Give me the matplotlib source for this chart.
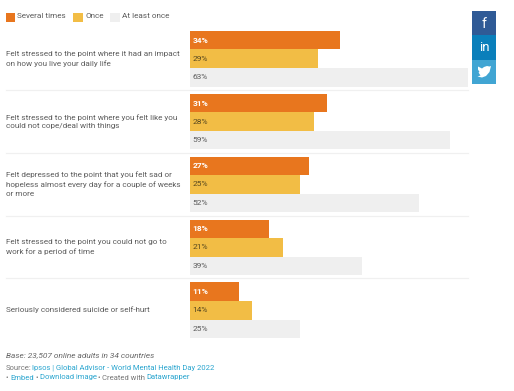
import numpy as np
import matplotlib
matplotlib.use("Agg")
import matplotlib.pyplot as plt
from matplotlib.patches import Rectangle, Polygon

plt.rcParams["font.family"] = ["Roboto", "DejaVu Sans"]

questions = [
    "Felt stressed to the point where it had an impact\non how you live your daily life",
    "Felt stressed to the point where you felt like you\ncould not cope/deal with things",
    "Felt depressed to the point that you felt sad or\nhopeless almost every day for a couple of weeks\nor more",
    "Felt stressed to the point you could not go to\nwork for a period of time",
    "Seriously considered suicide or self-hurt",
]
several_times = [34, 31, 27, 18, 11]
once = [29, 28, 25, 21, 14]
at_least_once = [63, 59, 52, 39, 25]

ORANGE = "#e8761e"
YELLOW = "#f2bd45"
GREY = "#efefef"
TEXT = "#5c5c5c"
LINK = "#2aa5cf"

W, H = 514, 391
fig = plt.figure(figsize=(W / 100, H / 100), dpi=100, facecolor="white")

# page layer, in pixels
page = fig.add_axes([0, 0, 1, 1])
page.set_xlim(0, W)
page.set_ylim(H, 0)
page.axis("off")

# bars
ax = fig.add_axes([190 / W, 1 - 338 / H, 278 / W, 307 / H])
ax.set_xlim(0, 63)
ax.set_ylim(4.44, -0.44)
ax.axis("off")

y = np.arange(len(questions))
bar_h = 0.295
series = [
    (several_times, -bar_h, ORANGE, "white", "bold"),
    (once, 0, YELLOW, "#5a4a20", "normal"),
    (at_least_once, bar_h, GREY, TEXT, "normal"),
]
for values, offset, color, txt_color, weight in series:
    ax.barh(y + offset, values, height=bar_h, color=color, linewidth=0)
    for yi, v in zip(y, values):
        ax.text(0.55, yi + offset, f"{v}%", color=txt_color, fontweight=weight,
                fontsize=6.0, va="center", ha="left")

# row labels and separators
for i, q in enumerate(questions):
    cy = 58.7 + i * 62.8
    page.text(6, cy, q, fontsize=5.87, color=TEXT, va="center", ha="left", linespacing=1.55)
    if i < len(questions) - 1:
        page.plot([6, 468], [cy + 31.2, cy + 31.2], color="#f0f0f0", linewidth=0.9)

# legend
legend_items = [(6, 15, ORANGE, 17, "Several times"), (73, 83, YELLOW, 85, "Once"),
                (110, 120, GREY, 122, "At least once")]
for x0, x1, color, tx, label in legend_items:
    page.add_patch(Rectangle((x0, 12.5), x1 - x0, 9, color=color, linewidth=0))
    page.text(tx, 16.5, label, fontsize=5.9, color=TEXT, va="center", ha="left")

# footer
page.text(6, 355.5, "Base: 23,507 online adults in 34 countries", fontsize=5.94,
          color="#666666", style="italic", va="center")
page.text(6, 368, "Source:", fontsize=5.47, color="#777777", va="center")
page.text(32.5, 368, "Ipsos | Global Advisor - World Mental Health Day 2022", fontsize=5.47,
          color=LINK, va="center")
page.text(6, 377.5, "•", fontsize=5.47, color="#777777", va="center")
page.text(10, 377.5, "Embed", fontsize=5.47, color=LINK, va="center")
page.text(35.5, 377.5, "•", fontsize=5.47, color="#777777", va="center")
page.text(39.5, 377.5, "Download image", fontsize=5.47, color=LINK, va="center")
page.text(97, 377.5, "•", fontsize=5.47, color="#777777", va="center")
page.text(102, 377.5, "Created with", fontsize=5.47, color="#777777", va="center")
page.text(146, 377.5, "Datawrapper", fontsize=5.47, color=LINK, va="center")

# share buttons
page.add_patch(Rectangle((472, 11), 24, 24, color="#2f5a96", linewidth=0))
page.add_patch(Rectangle((472, 35), 24, 25, color="#0a7fbb", linewidth=0))
page.add_patch(Rectangle((472, 60), 24, 24, color="#41a5d3", linewidth=0))
page.text(484, 23.5, "f", color="white", fontsize=10, fontweight="normal", ha="center", va="center")
page.text(484, 47.5, "in", color="white", fontsize=9.5, fontweight="normal", ha="center", va="center")
bird = [(478, 66.5), (482, 68.5), (484, 67), (487, 66), (489.5, 66.5), (491, 66), (490.5, 68),
        (489.5, 72), (486, 76), (482, 77.5), (477.5, 76.5), (480.5, 75.5), (478.5, 72.5), (479.5, 72), (478, 69.5)]
page.add_patch(Polygon(bird, closed=True, color="white", linewidth=0))

fig.savefig("out.png", dpi=100)
